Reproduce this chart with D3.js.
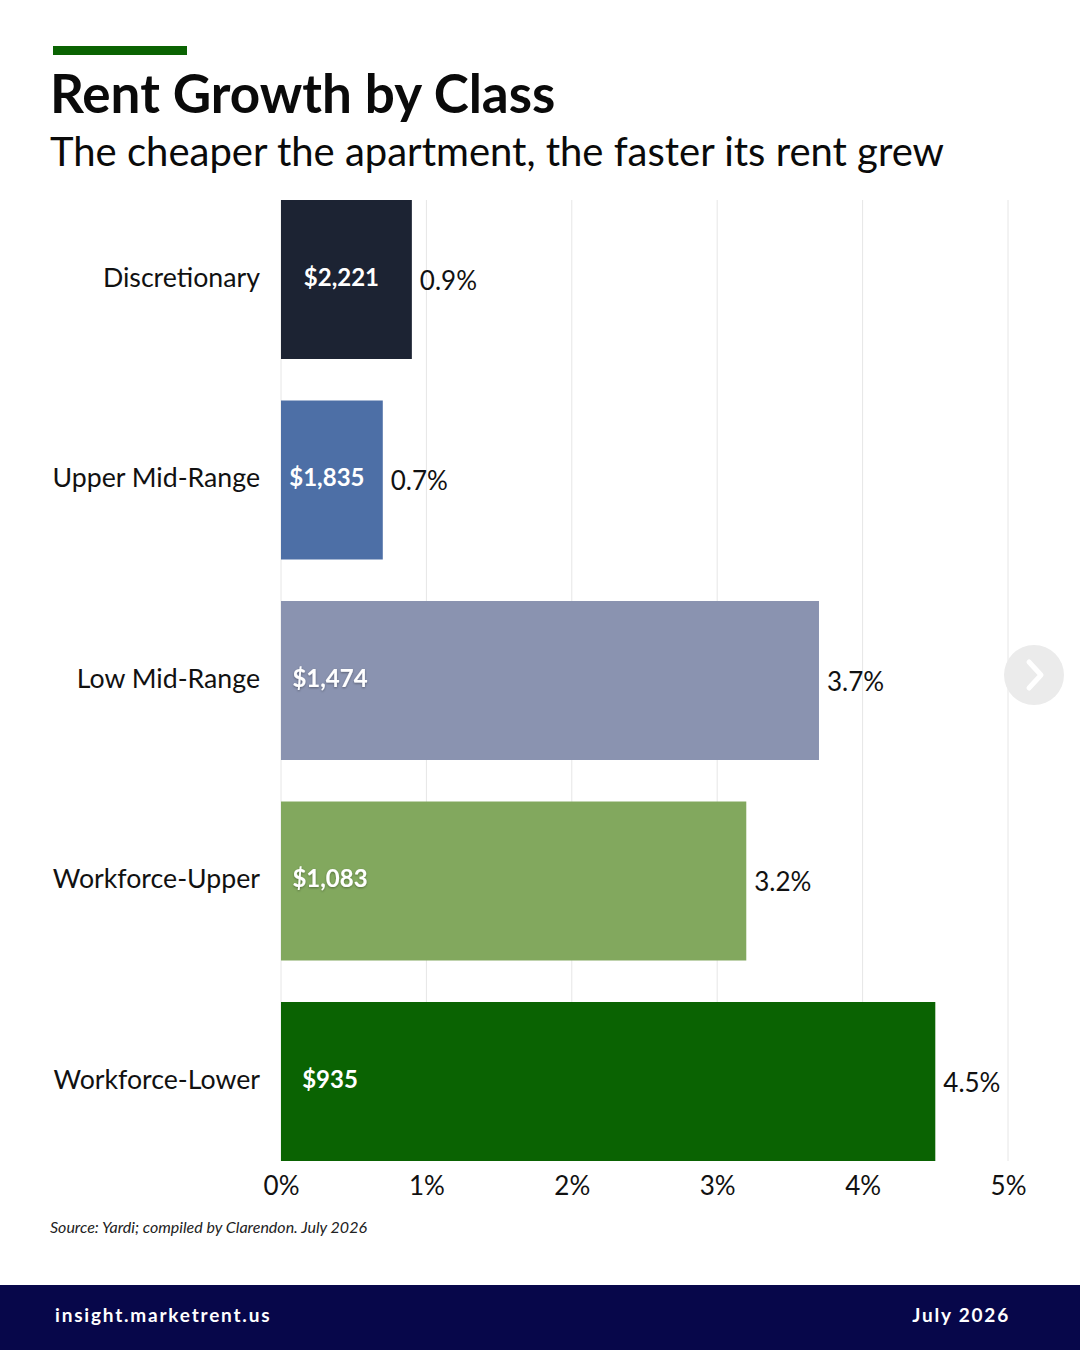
<!DOCTYPE html>
<html>
<head>
<meta charset="utf-8">
<script src="https://cdn.jsdelivr.net/npm/d3@7"></script>
<style>
  body { margin: 0; background: #fff; }
  svg { display: block; font-family: Lato, "Open Sans", sans-serif; }
</style>
</head>
<body>
<div id="chart"></div>
<script>
// chart data
var categories = ["Discretionary", "Upper Mid-Range", "Low Mid-Range", "Workforce-Upper", "Workforce-Lower"];
var growth = [0.9, 0.7, 3.7, 3.2, 4.5];
var rents = ["$2,221", "$1,835", "$1,474", "$1,083", "$935"];
var barColors = ["#1c2333", "#4d6fa6", "#8a93b0", "#82a85e", "#0a6302"];
var xTicks = [0, 1, 2, 3, 4, 5];

var width = 1080, height = 1350;

var svg = d3.select("#chart").append("svg")
    .attr("width", width).attr("height", height);

svg.append("rect").attr("width", width).attr("height", height).attr("fill", "#fff");

// header
svg.append("rect").attr("x", 53).attr("y", 46).attr("width", 134).attr("height", 9).attr("fill", "#0a6302");
svg.append("text").attr("x", 50).attr("y", 113)
    .attr("font-size", 53).attr("font-weight", 700).attr("fill", "#0a0a0a")
    .text("Rent Growth by Class");
svg.append("text").attr("x", 50).attr("y", 166)
    .attr("font-size", 40).attr("fill", "#0a0a0a")
    .text("The cheaper the apartment, the faster its rent grew");

var x = d3.scaleLinear().domain([0, 5]).range([281, 1008]);
var y = d3.scaleBand().domain(categories).range([200, 1161]).paddingInner(0.207).paddingOuter(0);

// gridlines
svg.append("g").selectAll("line").data(xTicks).join("line")
    .attr("x1", function (d) { return x(d); })
    .attr("x2", function (d) { return x(d); })
    .attr("y1", 200).attr("y2", 1161)
    .attr("stroke", "#e6e6e6").attr("stroke-width", 1);

var rows = categories.map(function (c, i) {
    return { name: c, value: growth[i], rent: rents[i], color: barColors[i] };
});

var defs = svg.append("defs");
defs.append("filter").attr("id", "shadow")
    .append("feDropShadow").attr("dx", 0).attr("dy", 1).attr("stdDeviation", 1)
    .attr("flood-color", "#000").attr("flood-opacity", 0.35);

var bars = svg.append("g").selectAll("g").data(rows).join("g");

bars.append("rect")
    .attr("x", x(0))
    .attr("y", function (d) { return y(d.name); })
    .attr("width", function (d) { return x(d.value) - x(0); })
    .attr("height", y.bandwidth())
    .attr("fill", function (d) { return d.color; });

// rent label inside bar: centred in short bars, fixed offset in long ones
bars.append("text")
    .attr("x", function (d) {
        var w = x(d.value) - x(0);
        return x(0) + (d.value < 1 ? w / 2 - 5 : 49);
    })
    .attr("y", function (d) { return y(d.name) + y.bandwidth() / 2 - 2; })
    .attr("dy", "0.35em")
    .attr("text-anchor", "middle")
    .attr("font-size", 24).attr("font-weight", 700).attr("fill", "#fff")
    .attr("filter", function (d, i) { return (i == 2 || i == 3) ? "url(#shadow)" : null; })
    .text(function (d) { return d.rent; });

// growth label
bars.append("text")
    .attr("x", function (d) { return x(d.value) + 8; })
    .attr("y", function (d) { return y(d.name) + y.bandwidth() / 2 + 1; })
    .attr("dy", "0.35em")
    .attr("font-size", 26).attr("fill", "#111")
    .text(function (d) { return d.value.toFixed(1) + "%"; });

// category labels
svg.append("g").selectAll("text").data(rows).join("text")
    .attr("x", 260)
    .attr("y", function (d) { return y(d.name) + y.bandwidth() / 2 - 2; })
    .attr("dy", "0.35em")
    .attr("text-anchor", "end")
    .attr("font-size", 26.7).attr("fill", "#111")
    .text(function (d) { return d.name; });

// x axis
var xAxis = d3.axisBottom(x).tickValues(xTicks).tickSize(0).tickPadding(0)
    .tickFormat(function (d) { return d + "%"; });
var axisG = svg.append("g").attr("transform", "translate(0,1177)").call(xAxis);
axisG.select(".domain").remove();
axisG.selectAll("text").attr("font-size", 26).attr("fill", "#111")
    .attr("font-family", "Lato, sans-serif").attr("dy", "0.71em");

// source
svg.append("text").attr("x", 50).attr("y", 1233)
    .attr("font-size", 16).attr("font-style", "italic").attr("fill", "#222")
    .text("Source: Yardi; compiled by Clarendon. July 2026");

// next button
svg.append("circle").attr("cx", 1034).attr("cy", 675).attr("r", 30).attr("fill", "#ebebeb");
svg.append("path").attr("d", "M1029,662 L1041,675 L1029,688")
    .attr("fill", "none").attr("stroke", "#fff").attr("stroke-width", 5)
    .attr("stroke-linecap", "round").attr("stroke-linejoin", "round");

// footer
svg.append("rect").attr("x", 0).attr("y", 1285).attr("width", width).attr("height", 65).attr("fill", "#07074a");
svg.append("text").attr("x", 55).attr("y", 1322)
    .attr("font-size", 19).attr("font-weight", 700).attr("fill", "#fff")
    .attr("letter-spacing", 1.8)
    .text("insight.marketrent.us");
svg.append("text").attr("x", 1010).attr("y", 1322).attr("text-anchor", "end")
    .attr("font-size", 19).attr("font-weight", 700).attr("fill", "#fff")
    .attr("letter-spacing", 1.8)
    .text("July 2026");
</script>
</body>
</html>
